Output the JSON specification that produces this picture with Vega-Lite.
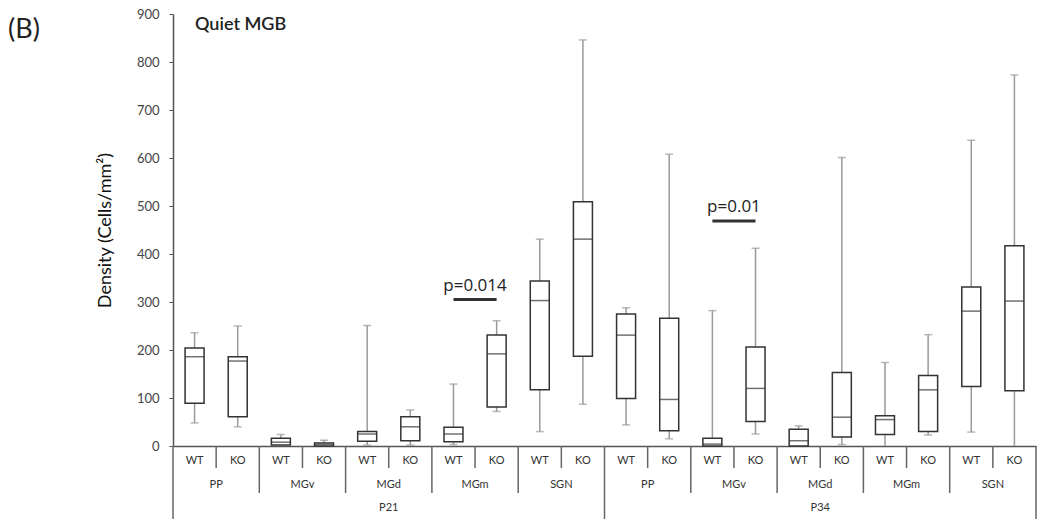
{
  "$schema": "https://vega.github.io/schema/vega-lite/v6.json",
  "width": 863,
  "height": 432,
  "autosize": {"type": "none"},
  "padding": {"left": 173, "top": 14, "right": 2, "bottom": 73},
  "background": "white",
  "title": {"text": "(B)", "anchor": "start", "frame": "group", "orient": "top", "offset": -29, "dx": -165, "dy": 28, "baseline": "alphabetic", "fontSize": 27, "fontWeight": "normal", "font": "Lato", "color": "#222"},
  "config": {
    "view": {"stroke": null},
    "font": "Lato",
    "axisX": {"domain": true, "domainColor": "#555", "domainWidth": 1.5, "labels": false, "ticks": false, "title": null, "grid": false},
    "axisY": {"domainColor": "#555", "domainWidth": 1.5, "tickColor": "#555", "tickSize": 4, "labelFontSize": 13, "labelColor": "#444", "labelPadding": 10, "grid": false, "titleFontSize": 18, "titleFontWeight": "normal", "titleColor": "#111", "titlePadding": 22, "labelFont": "Lato", "titleFont": "Lato"}
  },
  "datasets": {
    "boxes": [
      {"cat": "P21 PP WT", "age": "P21", "region": "PP", "geno": "WT", "lo": 48, "q1": 89, "med": 186, "q3": 204, "hi": 236},
      {"cat": "P21 PP KO", "age": "P21", "region": "PP", "geno": "KO", "lo": 40, "q1": 61, "med": 177, "q3": 186, "hi": 250},
      {"cat": "P21 MGv WT", "age": "P21", "region": "MGv", "geno": "WT", "lo": 0, "q1": 2, "med": 8, "q3": 16, "hi": 24},
      {"cat": "P21 MGv KO", "age": "P21", "region": "MGv", "geno": "KO", "lo": 0, "q1": 0, "med": 3, "q3": 6, "hi": 12},
      {"cat": "P21 MGd WT", "age": "P21", "region": "MGd", "geno": "WT", "lo": 2, "q1": 10, "med": 25, "q3": 30, "hi": 251},
      {"cat": "P21 MGd KO", "age": "P21", "region": "MGd", "geno": "KO", "lo": 2, "q1": 11, "med": 40, "q3": 61, "hi": 75},
      {"cat": "P21 MGm WT", "age": "P21", "region": "MGm", "geno": "WT", "lo": 3, "q1": 9, "med": 25, "q3": 39, "hi": 129},
      {"cat": "P21 MGm KO", "age": "P21", "region": "MGm", "geno": "KO", "lo": 72, "q1": 81, "med": 192, "q3": 231, "hi": 261},
      {"cat": "P21 SGN WT", "age": "P21", "region": "SGN", "geno": "WT", "lo": 30, "q1": 117, "med": 303, "q3": 344, "hi": 431},
      {"cat": "P21 SGN KO", "age": "P21", "region": "SGN", "geno": "KO", "lo": 87, "q1": 187, "med": 431, "q3": 509, "hi": 846},
      {"cat": "P34 PP WT", "age": "P34", "region": "PP", "geno": "WT", "lo": 44, "q1": 99, "med": 231, "q3": 275, "hi": 288},
      {"cat": "P34 PP KO", "age": "P34", "region": "PP", "geno": "KO", "lo": 15, "q1": 32, "med": 97, "q3": 266, "hi": 608},
      {"cat": "P34 MGv WT", "age": "P34", "region": "MGv", "geno": "WT", "lo": 0, "q1": 0, "med": 4, "q3": 16, "hi": 282},
      {"cat": "P34 MGv KO", "age": "P34", "region": "MGv", "geno": "KO", "lo": 25, "q1": 51, "med": 120, "q3": 206, "hi": 412},
      {"cat": "P34 MGd WT", "age": "P34", "region": "MGd", "geno": "WT", "lo": 0, "q1": 0, "med": 11, "q3": 35, "hi": 42},
      {"cat": "P34 MGd KO", "age": "P34", "region": "MGd", "geno": "KO", "lo": 3, "q1": 19, "med": 60, "q3": 153, "hi": 601},
      {"cat": "P34 MGm WT", "age": "P34", "region": "MGm", "geno": "WT", "lo": 0, "q1": 24, "med": 55, "q3": 63, "hi": 174},
      {"cat": "P34 MGm KO", "age": "P34", "region": "MGm", "geno": "KO", "lo": 23, "q1": 30, "med": 117, "q3": 147, "hi": 232},
      {"cat": "P34 SGN WT", "age": "P34", "region": "SGN", "geno": "WT", "lo": 29, "q1": 124, "med": 281, "q3": 331, "hi": 637},
      {"cat": "P34 SGN KO", "age": "P34", "region": "SGN", "geno": "KO", "lo": 0, "q1": 115, "med": 302, "q3": 417, "hi": 773}
    ],
    "pvals": [
      {"label": "p=0.014", "from": "P21 MGm WT", "to": "P21 MGm KO", "yline": 305},
      {"label": "p=0.01", "from": "P34 MGv WT", "to": "P34 MGv KO", "yline": 469}
    ],
    "panel": [
      {"label": "Quiet MGB", "cat": "P21 PP WT", "ypos": 878}
    ]
  },
  "layer": [
    {
      "data": {"name": "boxes"},
      "mark": {"type": "rule", "color": "#9a9a9a", "strokeWidth": 1.5},
      "encoding": {
        "x": {"field": "cat", "type": "nominal", "sort": null,
          "scale": {"domain": ["P21 PP WT", "P21 PP KO", "P21 MGv WT", "P21 MGv KO", "P21 MGd WT", "P21 MGd KO", "P21 MGm WT", "P21 MGm KO", "P21 SGN WT", "P21 SGN KO", "P34 PP WT", "P34 PP KO", "P34 MGv WT", "P34 MGv KO", "P34 MGd WT", "P34 MGd KO", "P34 MGm WT", "P34 MGm KO", "P34 SGN WT", "P34 SGN KO"], "paddingInner": 0, "paddingOuter": 0}},
        "y": {"field": "lo", "type": "quantitative", "scale": {"domain": [0, 900], "nice": false, "zero": false},
          "axis": {"values": [0, 100, 200, 300, 400, 500, 600, 700, 800, 900], "title": "Density (Cells/mm²)"}},
        "y2": {"field": "hi"}
      }
    },
    {
      "data": {"name": "boxes"},
      "mark": {"type": "tick", "orient": "horizontal", "color": "#9a9a9a", "size": 8, "thickness": 1.5},
      "encoding": {"x": {"field": "cat", "type": "nominal"}, "y": {"field": "hi", "type": "quantitative"}}
    },
    {
      "data": {"name": "boxes"},
      "transform": [{"filter": "datum.lo > 0"}],
      "mark": {"type": "tick", "orient": "horizontal", "color": "#9a9a9a", "size": 8, "thickness": 1.5},
      "encoding": {"x": {"field": "cat", "type": "nominal"}, "y": {"field": "lo", "type": "quantitative"}}
    },
    {
      "data": {"name": "boxes"},
      "mark": {"type": "bar", "width": 19, "fill": "white", "stroke": "#333", "strokeWidth": 1.5},
      "encoding": {"x": {"field": "cat", "type": "nominal"}, "y": {"field": "q1", "type": "quantitative"}, "y2": {"field": "q3"}}
    },
    {
      "data": {"name": "boxes"},
      "mark": {"type": "tick", "orient": "horizontal", "color": "#333", "size": 19, "thickness": 1.5},
      "encoding": {"x": {"field": "cat", "type": "nominal"}, "y": {"field": "med", "type": "quantitative"}}
    },
    {
      "data": {"name": "boxes"},
      "transform": [{"filter": "datum.geno == 'KO'"}],
      "mark": {"type": "rule", "color": "#666", "strokeWidth": 1.5},
      "encoding": {"x": {"field": "cat", "type": "nominal", "bandPosition": 0}, "y": {"datum": 0}, "y2": {"datum": -46}}
    },
    {
      "data": {"name": "boxes"},
      "transform": [{"filter": "datum.geno == 'WT' && datum.region != 'PP'"}],
      "mark": {"type": "rule", "color": "#666", "strokeWidth": 1.5},
      "encoding": {"x": {"field": "cat", "type": "nominal", "bandPosition": 0}, "y": {"datum": 0}, "y2": {"datum": -98}}
    },
    {
      "data": {"name": "boxes"},
      "transform": [{"filter": "datum.geno == 'WT' && datum.region == 'PP'"}],
      "mark": {"type": "rule", "color": "#666", "strokeWidth": 1.5},
      "encoding": {"x": {"field": "cat", "type": "nominal", "bandPosition": 0}, "y": {"datum": 0}, "y2": {"datum": -152}}
    },
    {
      "data": {"name": "boxes"},
      "transform": [{"filter": "datum.cat == 'P34 SGN KO'"}],
      "mark": {"type": "rule", "color": "#666", "strokeWidth": 1.5},
      "encoding": {"x": {"field": "cat", "type": "nominal", "bandPosition": 1}, "y": {"datum": 0}, "y2": {"datum": -152}}
    },
    {
      "data": {"name": "boxes"},
      "mark": {"type": "text", "fontSize": 11, "color": "#333", "baseline": "middle", "align": "center"},
      "encoding": {"x": {"field": "cat", "type": "nominal"}, "y": {"datum": -31}, "text": {"field": "geno"}}
    },
    {
      "data": {"name": "boxes"},
      "transform": [{"filter": "datum.geno == 'KO'"}],
      "mark": {"type": "text", "fontSize": 11, "color": "#333", "baseline": "middle", "align": "center"},
      "encoding": {"x": {"field": "cat", "type": "nominal", "bandPosition": 0}, "y": {"datum": -81}, "text": {"field": "region"}}
    },
    {
      "data": {"name": "boxes"},
      "transform": [{"filter": "datum.geno == 'KO' && datum.region == 'MGd'"}],
      "mark": {"type": "text", "fontSize": 11, "color": "#333", "baseline": "middle", "align": "center"},
      "encoding": {"x": {"field": "cat", "type": "nominal", "bandPosition": 0}, "y": {"datum": -129}, "text": {"field": "age"}}
    },
    {
      "data": {"name": "pvals"},
      "mark": {"type": "rule", "color": "#333", "strokeWidth": 3},
      "encoding": {"x": {"field": "from", "type": "nominal"}, "x2": {"field": "to"}, "y": {"field": "yline", "type": "quantitative"}}
    },
    {
      "data": {"name": "pvals"},
      "mark": {"type": "text", "fontSize": 17, "font": "Open Sans", "color": "#222", "baseline": "alphabetic", "align": "center", "dy": -9},
      "encoding": {"x": {"field": "to", "type": "nominal", "bandPosition": 0}, "y": {"field": "yline", "type": "quantitative"}, "text": {"field": "label"}}
    },
    {
      "data": {"name": "panel"},
      "mark": {"type": "text", "fontSize": 18, "fontWeight": 600, "color": "#222", "baseline": "middle", "align": "left", "dx": 22},
      "encoding": {"x": {"field": "cat", "type": "nominal", "bandPosition": 0}, "y": {"field": "ypos", "type": "quantitative"}, "text": {"field": "label"}}
    }
  ]
}
